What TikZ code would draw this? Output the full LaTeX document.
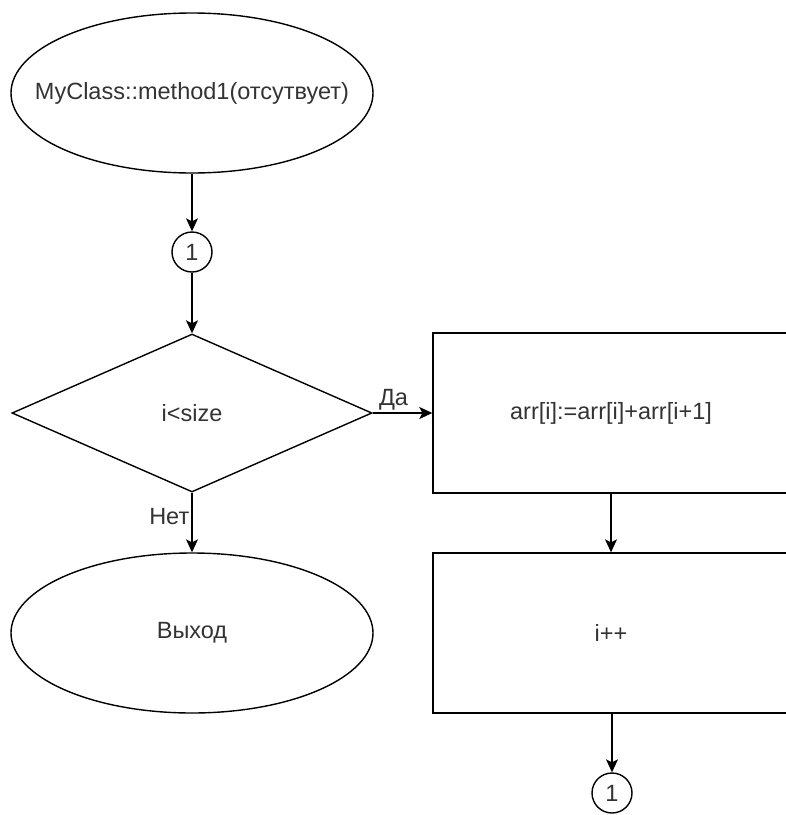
\documentclass[tikz,border=0pt]{standalone}
\usepackage{fontspec}
\setmainfont{Liberation Sans}
\usetikzlibrary{shapes.geometric,arrows.meta}
\begin{document}
\begin{tikzpicture}[x=1pt,y=-1pt,
  every node/.style={font=\fontsize{23.5}{27}\selectfont, text=black!80, inner sep=0pt},
  shp/.style={draw=black, line width=1.4pt},
  term/.style={shp, ellipse, minimum width=362pt, minimum height=160pt},
  conn/.style={shp, circle, minimum size=40pt},
  dec/.style={shp, diamond, minimum width=360pt, minimum height=158pt, aspect=2.28},
  proc/.style={shp, rectangle, minimum width=356pt, minimum height=160pt},
  flow/.style={draw=black, line width=1.4pt, -{Stealth[length=13pt,width=12pt,inset=3pt]}},
  lbl/.style={text=black!80}
]
\useasboundingbox (0,0) rectangle (786,815);
\node[term] (start) at (192,93) {};
\node (starttext) at (start.center) {MyClass::method1(отсутвует)};
\node[conn] (c1) at (192,252) {1};
\node[dec] (cond) at (192,413) {i<size};
\node[proc] (body) at (611,413) {arr[i]:=arr[i]+arr[i+1]};
\node[proc] (inc) at (611,633) {i++};
\node[term] (exit) at (192,633) {Выход};
\node[conn] (c2) at (612,793) {1};
\draw[flow] (start) -- (c1);
\draw[flow] (c1) -- (cond);
\draw[flow] (cond.east) -- (body.west) node[lbl, pos=0.35, above=2pt] {Да};
\draw[flow] (cond.south) -- (exit.north) node[lbl, pos=0.4, left=2pt] {Нет};
\draw[flow] (body) -- (inc);
\draw[flow] (inc.south -| c2) -- (c2);
\end{tikzpicture}
\end{document}
